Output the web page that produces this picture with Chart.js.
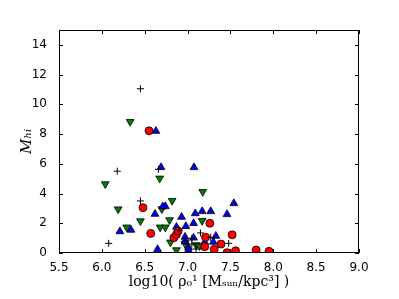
<!DOCTYPE html>
<html>
<head>
<meta charset="utf-8">
<script src="https://cdn.jsdelivr.net/npm/chart.js@4.4.1/dist/chart.umd.min.js"></script>
<style>
html,body{margin:0;padding:0;background:#fff;}
#wrap{width:399px;height:299px;}
</style>
</head>
<body>
<div id="wrap"><canvas id="myChart" width="399" height="299"></canvas></div>
<script>
// values: [log10 rho0, M_hi]
var plusPts=[[6.45,11.05],[6.18,5.5],[6.66,5.63],[6.45,3.5],[6.08,0.65],[6.90,1.55],[7.15,1.35],
[7.05,0.99],[7.05,0.6],[7.10,0.27],[7.27,1.05],[7.48,0.65],[6.98,0.85]];
var redPts=[[6.55,8.22],[6.48,3.05],[6.57,1.32],[6.84,1.03],[6.87,1.25],[6.89,1.48],[7.26,2.0],
[7.21,1.06],[7.20,0.42],[7.31,0.25],[7.39,0.6],[7.46,0.02],[7.52,1.22],[7.56,0.15],[7.80,0.2],[7.95,0.11]];
var bluePts=[[6.63,8.2],[6.69,5.76],[7.075,5.76],[7.54,3.34],[7.46,2.6],[6.74,3.14],[6.71,3.12],
[6.62,2.62],[6.21,1.45],[6.34,1.55],[6.93,2.42],[6.87,1.75],[6.98,1.80],[7.07,2.0],[7.09,2.66],
[7.17,2.8],[7.27,2.8],[7.33,1.14],[7.30,0.74],[7.20,0.74],[7.07,1.02],[6.97,1.08],[6.97,0.76],
[7.01,0.38],[7.01,0.2],[6.65,0.25]];
var greenPts=[[6.33,8.83],[6.04,4.64],[6.675,5.02],[7.177,4.12],[6.19,2.95],[6.82,3.52],[6.70,2.96],
[6.45,2.15],[6.79,2.22],[6.29,1.73],[6.68,1.73],[6.74,1.73],[7.17,2.17],[6.80,0.72],[6.87,0.2],
[6.97,0.63],[7.10,0.54],[7.14,0.47]];
var xTicks=[5.5,6.0,6.5,7.0,7.5,8.0,8.5,9.0];
var yTicks=[0,2,4,6,8,10,12,14];

function pts(a){return a.map(function(p){return {x:p[0],y:p[1]};});}

// matplotlib-ish frame: box all round, ticks pointing inwards
var frame={
id:'frame',
afterDatasetsDraw:function(chart){
var ctx=chart.ctx,a=chart.chartArea,x=chart.scales.x,y=chart.scales.y;
ctx.save();
ctx.strokeStyle='#000';
ctx.lineWidth=1;
ctx.beginPath();
xTicks.forEach(function(v){
var px=Math.round(x.getPixelForValue(v))+0.5;
ctx.moveTo(px,a.bottom);ctx.lineTo(px,a.bottom-4);
ctx.moveTo(px,a.top);ctx.lineTo(px,a.top+4);
});
yTicks.forEach(function(v){
var py=Math.round(y.getPixelForValue(v))+0.5;
ctx.moveTo(a.left,py);ctx.lineTo(a.left+4,py);
ctx.moveTo(a.right,py);ctx.lineTo(a.right-4,py);
});
ctx.stroke();
ctx.strokeRect(a.left+0.5,a.top+0.5,a.width-1,a.height-1);
ctx.restore();
}
};

var myChart=document.getElementById("myChart").getContext('2d');
var chart=new Chart(myChart,{
type:'scatter',
data:{
datasets:[
{label:'plus',data:pts(plusPts),pointStyle:'cross',pointRadius:3.5,borderColor:'#000',borderWidth:1,backgroundColor:'#000'},
{label:'red',data:pts(redPts),pointStyle:'circle',pointRadius:4,borderColor:'#000',borderWidth:0.8,backgroundColor:'#ff0000'},
{label:'blue',data:pts(bluePts),pointStyle:'triangle',pointRadius:4.5,borderColor:'#000',borderWidth:0.8,backgroundColor:'#0000ff'},
{label:'green',data:pts(greenPts),pointStyle:'triangle',rotation:180,pointRadius:4.5,borderColor:'#000',borderWidth:0.8,backgroundColor:'#007f00'}
]
},
options:{
responsive:false,
animation:false,
events:[],
layout:{padding:{top:30,right:40,left:0,bottom:0}},
plugins:{legend:{display:false},tooltip:{enabled:false}},
scales:{
x:{
type:'linear',min:5.5,max:9.0,
afterBuildTicks:function(s){s.ticks=xTicks.map(function(v){return {value:v};});},
afterFit:function(s){s.height=46;},
grid:{display:false},
border:{display:false},
ticks:{color:'#000',padding:0,font:{family:'DejaVu Sans',size:12},maxRotation:0,
callback:function(v){return v.toFixed(1);}},
title:{display:true,text:'log10( ρ\u2080\u00b9 [M\u209b\u1d64\u2099/kpc\u00b3] )',color:'#000',
font:{family:'DejaVu Serif',size:14},padding:{top:2,bottom:8}}
},
y:{
type:'linear',min:0,max:15,
afterBuildTicks:function(s){s.ticks=yTicks.map(function(v){return {value:v};});},
afterFit:function(s){s.width=59;},
grid:{display:false},
border:{display:false},
ticks:{color:'#000',padding:4,font:{family:'DejaVu Sans',size:12}},
title:{display:true,text:'M\u2095\u1d62',color:'#000',
font:{family:'DejaVu Serif',size:15,style:'italic'},padding:{top:18,bottom:4}}
}
}
},
plugins:[frame]
});
</script>
</body>
</html>
